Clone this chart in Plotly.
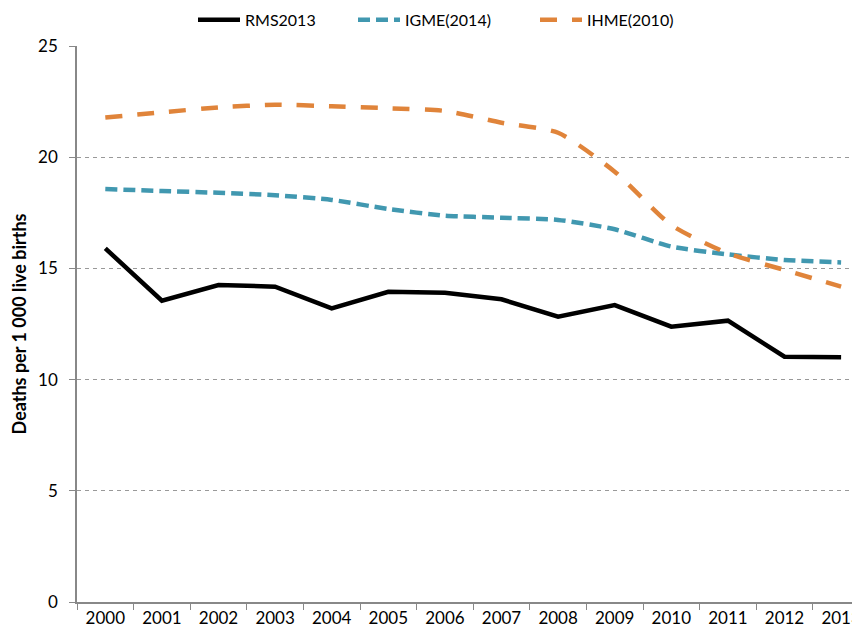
import plotly.graph_objects as go

years = ["2000", "2001", "2002", "2003", "2004", "2005", "2006",
         "2007", "2008", "2009", "2010", "2011", "2012", "2013"]
rms2013 = [15.90, 13.55, 14.25, 14.18, 13.20, 13.95, 13.90,
           13.61, 12.83, 13.35, 12.38, 12.65, 11.03, 11.00]
igme2014 = [18.57, 18.48, 18.40, 18.29, 18.08, 17.67, 17.37,
            17.28, 17.18, 16.76, 15.98, 15.63, 15.38, 15.27]
ihme2010 = [21.78, 22.02, 22.24, 22.36, 22.29, 22.20, 22.08,
            21.55, 21.10, 19.35, 16.95, 15.68, 14.93, 14.18]
y_ticks = [0, 5, 10, 15, 20, 25]

FONT = "Lato"

fig = go.Figure()
fig.add_trace(go.Scatter(x=years, y=rms2013, name="RMS2013", mode="lines",
                         legend="legend",
                         line=dict(color="#000000", width=4.5)))
fig.add_trace(go.Scatter(x=years, y=igme2014, name="IGME(2014)", mode="lines",
                         legend="legend2",
                         line=dict(color="#4198b0", width=4.5, dash="12px,6px",
                                   shape="spline", smoothing=0.6)))
fig.add_trace(go.Scatter(x=years, y=ihme2010, name="IHME(2010)", mode="lines",
                         legend="legend3",
                         line=dict(color="#e0843a", width=4.5, dash="17px,15px",
                                   shape="spline", smoothing=0.6)))

PLOT_W = 791

def leg(xpx):
    return dict(orientation="h", x=(xpx - 77) / PLOT_W, xanchor="left",
                y=1.047, yanchor="middle",
                font=dict(family=FONT, size=16), itemwidth=42,
                bgcolor="rgba(0,0,0,0)")

fig.update_layout(
    width=860, height=637,
    margin=dict(l=69, r=0, t=38, b=43, autoexpand=False),
    paper_bgcolor="white", plot_bgcolor="white",
    font=dict(family=FONT, size=17, color="#000000"),
    legend=leg(193), legend2=leg(353), legend3=leg(535),
    showlegend=True,
)

fig.update_xaxes(
    type="category", range=[-0.5, 13.475], automargin=False,
    ticklabeloverflow="allow",
    tickson="boundaries", ticks="outside", ticklen=6, tickcolor="#888888",
    showline=True, linecolor="#888888", linewidth=1.5,
    showgrid=False, zeroline=False,
    tickfont=dict(family=FONT, size=17),
)
fig.update_yaxes(
    range=[0, 25], tickvals=y_ticks, automargin=False,
    ticks="outside", ticklen=6, tickcolor="#888888", ticklabelstandoff=8,
    showline=True, linecolor="#888888", linewidth=1.5,
    showgrid=True, gridcolor="#999999", griddash="4px,4px", gridwidth=1,
    zeroline=False,
    tickfont=dict(family=FONT, size=17),
    title=dict(text="<b>Deaths per 1 000 live births</b>",
               font=dict(family=FONT, size=18), standoff=14),
)

fig.write_html("out.html",
               post_script="document.documentElement.style.overflow='hidden';")
